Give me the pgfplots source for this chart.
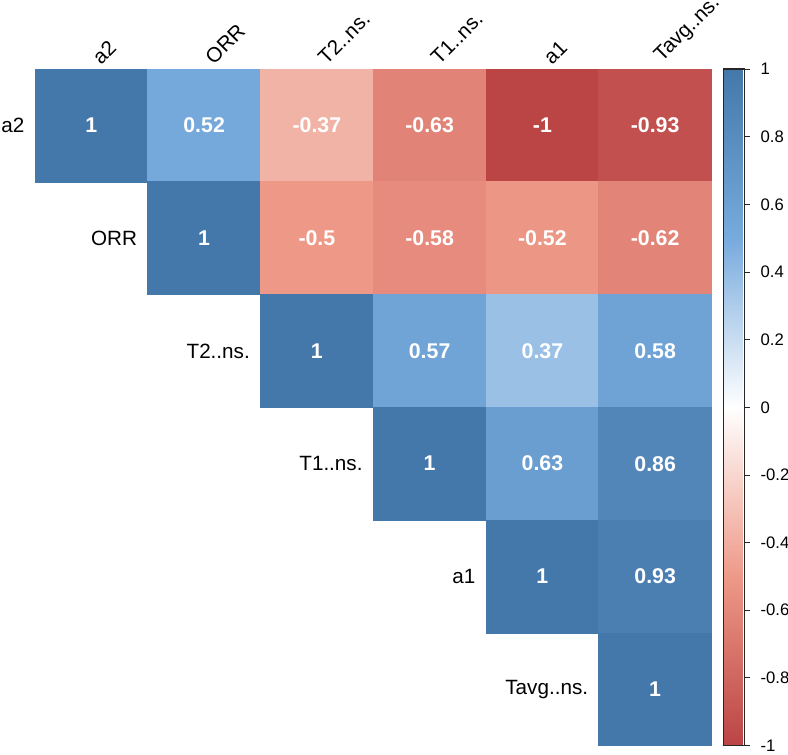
\documentclass[border=0pt]{standalone}
\usepackage{fontspec}
\setmainfont{Liberation Sans}
\usepackage{pgfplots}
\pgfplotsset{compat=1.18}
\usepackage{pgfplotstable}

\pgfplotstableread{
cx cy v
0 0 1
1 0 0.52
2 0 -0.37
3 0 -0.63
4 0 -1
5 0 -0.93
1 1 1
2 1 -0.5
3 1 -0.58
4 1 -0.52
5 1 -0.62
2 2 1
3 2 0.57
4 2 0.37
5 2 0.58
3 3 1
4 3 0.63
5 3 0.86
4 4 1
5 4 0.93
5 5 1
}\corrtab

\begin{document}
\begin{tikzpicture}
\path[use as bounding box] (0,0) rectangle (591pt,-565.5pt);
\begin{axis}[
  at={(26.25pt,-51.75pt)}, anchor=north west,
  scale only axis, width=507.4pt, height=507.4pt,
  xmin=-0.5, xmax=5.5, ymin=-0.5, ymax=5.5,
  y dir=reverse,
  clip=false,
  axis line style={draw=none},
  tick style={draw=none},
  ytick=\empty,
  xtick={0,1,2,3,4,5},
  xticklabels={a2,ORR,T2..ns.,T1..ns.,a1,Tavg..ns.},
  xticklabel pos=upper,
  xticklabel style={rotate=45, anchor=south west, inner sep=1pt, xshift=6pt, yshift=-4.5pt, font=\fontsize{15.5}{18}\selectfont},
  colormap={corr}{rgb255=(187,68,68) rgb255=(238,153,136) rgb255=(255,255,255) rgb255=(119,170,221) rgb255=(68,119,170)},
  point meta min=-1, point meta max=1,
  colorbar right,
  colorbar style={
    at={(parent axis.north east)}, anchor=north west, xshift=0.75pt,
    width=15.75pt,
    ytick={-1,-0.8,-0.6,-0.4,-0.2,0,0.2,0.4,0.6,0.8,1},
    yticklabels={-1,-0.8,-0.6,-0.4,-0.2,0,0.2,0.4,0.6,0.8,1},
    yticklabel pos=right,
    ytick pos=right,
    tick align=outside,
    major tick length=3.75pt,
    tick style={draw=black!85, line width=0.6pt},
    axis line style={draw=black!85, line width=0.8pt},
    yticklabel style={font=\fontsize{12.5}{14}\selectfont, xshift=4.5pt},
  },
]
\addplot[scatter, only marks, mark=square*, mark size=42.3pt,
  scatter/use mapped color={draw=mapped color, fill=mapped color},
  point meta=explicit,
] table[x=cx, y=cy, meta=v] {\corrtab};
\addplot[only marks, mark=none,
  point meta=explicit,
  nodes near coords={\pgfmathprintnumber[assume math mode=true]{\pgfplotspointmeta}},
  nodes near coords align={center},
  every node near coord/.append style={text=white, anchor=center, font=\bfseries\fontsize{16}{18}\selectfont},
] table[x=cx, y=cy, meta=v] {\corrtab};
\node[anchor=east, font=\fontsize{15.5}{18}\selectfont, xshift=-4.5pt] at (axis cs:-0.5,0) {a2};
\node[anchor=east, font=\fontsize{15.5}{18}\selectfont, xshift=-4.5pt] at (axis cs:0.5,1) {ORR};
\node[anchor=east, font=\fontsize{15.5}{18}\selectfont, xshift=-4.5pt] at (axis cs:1.5,2) {T2..ns.};
\node[anchor=east, font=\fontsize{15.5}{18}\selectfont, xshift=-4.5pt] at (axis cs:2.5,3) {T1..ns.};
\node[anchor=east, font=\fontsize{15.5}{18}\selectfont, xshift=-4.5pt] at (axis cs:3.5,4) {a1};
\node[anchor=east, font=\fontsize{15.5}{18}\selectfont, xshift=-4.5pt] at (axis cs:4.5,5) {Tavg..ns.};
\end{axis}
\end{tikzpicture}
\end{document}
